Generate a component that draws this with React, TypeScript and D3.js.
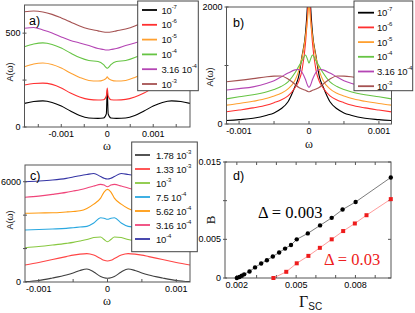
import React, { useEffect, useRef } from 'react';
import * as d3 from 'd3';

// ---------- panel a) ----------
const omegaA = [-0.0018, -0.0016, -0.0014, -0.0012, -0.001, -0.0008, -0.0006, -0.0004, -0.0002, -0.00008, -0.00002, 0, 0.00002, 0.00008, 0.0002, 0.0004, 0.0006, 0.0008, 0.001, 0.0012, 0.0014, 0.0016, 0.0018];
const a1 = [126, 136, 139, 131, 112, 85, 61, 48, 46, 48, 70, 197, 70, 48, 46, 48, 61, 85, 112, 131, 139, 136, 126];
const a2 = [224, 232, 234, 227, 208, 181, 160, 147, 144, 145, 165, 208, 165, 145, 144, 147, 160, 181, 208, 227, 234, 232, 224];
const a3 = [321, 336, 341, 333, 314, 288, 264, 248, 245, 251, 260, 267, 260, 251, 245, 248, 264, 288, 314, 333, 341, 336, 321];
const a4 = [428, 442, 448, 440, 421, 394, 370, 354, 349, 332, 316, 313, 316, 332, 349, 354, 370, 394, 421, 440, 448, 442, 428];
const a5 = [526, 530, 517, 501, 480, 461, 448, 434, 418, 413, 410, 410, 410, 413, 418, 434, 448, 461, 480, 501, 517, 530, 526];
const a6 = [614, 618, 613, 600, 581, 560, 538, 522, 512, 506, 505, 505, 505, 506, 512, 522, 538, 560, 581, 600, 613, 618, 614];

// ---------- panel b) ----------
const omegaB = [-0.00118, -0.001, -0.0008, -0.0006, -0.0005, -0.0004, -0.0003, -0.0002, -0.00015, -0.0001, -0.00005, -0.00002, 0, 0.00002, 0.00005, 0.0001, 0.00015, 0.0002, 0.0003, 0.0004, 0.0005, 0.0006, 0.0008, 0.001, 0.00118];
const b1 = [60, 75, 97, 150, 190, 260, 380, 640, 800, 1160, 1556, 2100, 2800, 2100, 1556, 1160, 800, 640, 380, 260, 190, 150, 97, 75, 60];
const b2 = [208, 238, 275, 325, 365, 410, 480, 620, 720, 920, 1380, 1900, 2400, 1900, 1380, 920, 720, 620, 480, 410, 365, 325, 275, 238, 208];
const b3 = [322, 350, 388, 439, 480, 525, 600, 747, 900, 1134, 1493, 1800, 2050, 1800, 1493, 1134, 900, 747, 600, 525, 480, 439, 388, 350, 322];
const b4 = [430, 465, 500, 552, 590, 640, 720, 875, 980, 1080, 1180, 1100, 1040, 1100, 1180, 1080, 980, 875, 720, 640, 590, 552, 500, 465, 430];
const b5 = [581, 605, 635, 696, 740, 805, 870, 925, 932, 885, 760, 660, 627, 660, 760, 885, 932, 925, 870, 805, 740, 696, 635, 605, 581];
const b6 = [722, 745, 775, 809, 818, 820, 770, 680, 627, 597, 575, 558, 552, 558, 575, 597, 627, 680, 770, 820, 818, 809, 775, 745, 722];

const abLabels = ['10^-7', '10^-6', '10^-5', '10^-4', '3.16 10^-4', '10^-3'];
const abColors = ['#000000', '#ff3030', '#ffa030', '#66c444', '#b445b4', '#a55252'];

// ---------- panel c) ----------
const omegaC = [-0.0012, -0.001, -0.0008, -0.0006, -0.0005, -0.0004, -0.0003, -0.0002, -0.0001, -0.00005, 0, 0.00005, 0.0001, 0.0002, 0.0003, 0.0004, 0.0005, 0.0006, 0.0008, 0.001, 0.0012];
const c1 = [20, 90, 240, 420, 540, 690, 780, 600, 330, 250, 220, 250, 330, 600, 780, 690, 540, 420, 240, 90, 20];
const c2 = [1020, 1170, 1350, 1520, 1610, 1670, 1700, 1610, 1400, 1300, 1260, 1300, 1400, 1610, 1700, 1670, 1610, 1520, 1350, 1170, 1020];
const c3 = [2050, 2120, 2210, 2310, 2370, 2450, 2540, 2660, 2690, 2540, 2410, 2540, 2690, 2660, 2540, 2450, 2370, 2310, 2210, 2120, 2050];
const c4 = [3110, 3140, 3170, 3210, 3250, 3290, 3330, 3530, 3840, 3810, 3750, 3810, 3840, 3530, 3330, 3290, 3250, 3210, 3170, 3140, 3110];
const c5 = [4110, 4130, 4140, 4190, 4220, 4260, 4400, 4660, 5020, 5380, 5540, 5380, 5020, 4660, 4400, 4260, 4220, 4190, 4140, 4130, 4110];
const c6 = [5070, 5140, 5240, 5360, 5440, 5520, 5620, 5740, 5840, 5800, 5700, 5800, 5840, 5740, 5620, 5520, 5440, 5360, 5240, 5140, 5070];
const c7 = [6000, 6040, 6100, 6200, 6280, 6360, 6430, 6490, 6310, 6210, 6160, 6210, 6310, 6490, 6430, 6360, 6280, 6200, 6100, 6040, 6000];

const cLabels = ['1.78 10^-3', '1.33 10^-3', '10^-3', '7.5 10^-4', '5.62 10^-4', '3.16 10^-4', '10^-4'];
const cColors = ['#404040', '#ff4545', '#88c840', '#2aa8e0', '#ff9a10', '#f0457a', '#3535a5'];

// ---------- panel d) ----------
const gammaBlack = [0.0020, 0.00213, 0.00225, 0.00237, 0.00264, 0.00292, 0.00323, 0.00352, 0.00382, 0.00414, 0.00444, 0.00474, 0.00503, 0.00559, 0.00621, 0.0068, 0.00735, 0.00801, 0.00979];
const bBlack = [0, 0.00013, 0.0003, 0.00047, 0.00085, 0.00137, 0.00188, 0.0023, 0.00278, 0.0033, 0.0038, 0.00427, 0.005, 0.00577, 0.0068, 0.00778, 0.00885, 0.00983, 0.013];
const gammaRed = [0.00385, 0.0045, 0.00503, 0.00562, 0.0062, 0.0068, 0.00738, 0.00797, 0.00856, 0.00979];
const bRed = [0, 0.0008, 0.0019, 0.00286, 0.0039, 0.005, 0.00607, 0.00705, 0.00812, 0.0102];

const sans = "'Liberation Sans', Arial, sans-serif";
const serif = "'Liberation Serif', 'Times New Roman', serif";
const frameColor = '#555';

const App = () => {
  const svgRef = useRef<SVGSVGElement>(null);

  useEffect(() => {
    document.body.style.margin = '0';
    const svg = d3.select(svgRef.current);
    svg.selectAll('*').remove();

    const axes = (x: any, y: any, xTicks: number[], xLab: number[], yTicks: number[], yLab: number[], mirror = false) => {
      const [l, r] = x.range();
      const [b, t] = y.range();
      const g = svg.append('g');
      g.append('rect').attr('x', l).attr('y', t).attr('width', r - l).attr('height', b - t)
        .attr('fill', 'none').attr('stroke', frameColor).attr('stroke-width', 1);
      xTicks.forEach(v => {
        g.append('line').attr('x1', x(v)).attr('x2', x(v)).attr('y1', b).attr('y2', b - 3).attr('stroke', frameColor);
        if (mirror) g.append('line').attr('x1', x(v)).attr('x2', x(v)).attr('y1', t).attr('y2', t + 3).attr('stroke', frameColor);
      });
      yTicks.forEach(v => {
        g.append('line').attr('x1', l - 2).attr('x2', l + 2).attr('y1', y(v)).attr('y2', y(v)).attr('stroke', frameColor);
        if (mirror) g.append('line').attr('x1', r).attr('x2', r - 3).attr('y1', y(v)).attr('y2', y(v)).attr('stroke', frameColor);
      });
      xLab.forEach(v => {
        g.append('text').attr('x', x(v)).attr('y', b + 10).attr('text-anchor', 'middle')
          .attr('font-family', sans).attr('font-size', 9).text(String(v));
      });
      yLab.forEach(v => {
        g.append('text').attr('x', l - 4).attr('y', y(v) + 3).attr('text-anchor', 'end')
          .attr('font-family', sans).attr('font-size', 9).text(String(v));
      });
    };

    const clip = (id: string, x: any, y: any) => {
      const [l, r] = x.range();
      const [b, t] = y.range();
      svg.append('clipPath').attr('id', id).append('rect')
        .attr('x', l).attr('y', t).attr('width', r - l).attr('height', b - t);
    };

    const curves = (id: string, x: any, y: any, omega: number[], series: number[][], colors: string[]) => {
      const line = d3.line<number>().x((_, i) => x(omega[i])).y(d => y(d)).curve(d3.curveMonotoneX);
      const g = svg.append('g').attr('clip-path', `url(#${id})`);
      series.forEach((s, i) => {
        g.append('path').attr('d', line(s)).attr('fill', 'none')
          .attr('stroke', colors[i]).attr('stroke-width', 1.1);
      });
    };

    const label = (g: any, x: number, y: number, txt: string) => {
      const [base, exp] = txt.split('^');
      const t = g.append('text').attr('x', x).attr('y', y + 3.5)
        .attr('font-family', sans).attr('font-size', 9.5).attr('letter-spacing', -0.2).attr('fill', '#111');
      t.append('tspan').text(base);
      if (exp) t.append('tspan').attr('dy', -5).attr('font-size', 6).text(exp);
    };

    const legend = (x0: number, y0: number, w: number, h: number, first: number, step: number, lineX: number[], textX: number, labels: string[], colors: string[]) => {
      const g = svg.append('g');
      g.append('rect').attr('x', x0).attr('y', y0).attr('width', w).attr('height', h)
        .attr('fill', '#fff').attr('stroke', '#444').attr('stroke-width', 1);
      labels.forEach((lab, i) => {
        const yy = first + i * step;
        g.append('line').attr('x1', lineX[0]).attr('x2', lineX[1]).attr('y1', yy).attr('y2', yy)
          .attr('stroke', colors[i]).attr('stroke-width', 1.8);
        label(g, textX, yy, lab);
      });
    };

    const text = (x: number, y: number, s: string, size: number, family: string, rotate = false, fill = '#111') => {
      const t = svg.append('text').attr('x', x).attr('y', y).attr('text-anchor', 'middle')
        .attr('font-family', family).attr('font-size', size).attr('fill', fill).text(s);
      if (rotate) t.attr('transform', `rotate(-90,${x},${y})`);
      return t;
    };

    // a)
    const xa = d3.scaleLinear().domain([-0.0018, 0.0018]).range([24.5, 190]);
    const ya = d3.scaleLinear().domain([0, 650]).range([127, 5]);
    clip('ca', xa, ya);
    curves('ca', xa, ya, omegaA, [a1, a2, a3, a4, a5, a6], abColors);
    axes(xa, ya, [-0.0015, -0.001, -0.0005, 0, 0.0005, 0.001, 0.0015], [-0.001, 0, 0.001], [0, 250, 500], [0, 500]);

    // b)
    const xb = d3.scaleLinear().domain([-0.00118, 0.00118]).range([226.5, 391.5]);
    const yb = d3.scaleLinear().domain([0, 2000]).range([124, 7]);
    clip('cb', xb, yb);
    curves('cb', xb, yb, omegaB, [b1, b2, b3, b4, b5, b6], abColors);
    axes(xb, yb, [-0.001, -0.0005, 0, 0.0005, 0.001], [-0.001, 0, 0.001], [0, 1000, 2000], [0, 2000]);

    // c)
    const xc = d3.scaleLinear().domain([-0.0012, 0.0012]).range([25, 190]);
    const yc = d3.scaleLinear().domain([0, 7000]).range([282, 165]);
    clip('cc', xc, yc);
    curves('cc', xc, yc, omegaC, [c1, c2, c3, c4, c5, c6, c7], cColors);
    axes(xc, yc, [-0.001, -0.0005, 0, 0.0005, 0.001], [-0.001, 0, 0.001], [0, 2000, 4000, 6000], [0, 6000]);

    // d)
    const xd = d3.scaleLinear().domain([0.0014, 0.0098]).range([225, 391]);
    const yd = d3.scaleLinear().domain([0, 0.015]).range([278, 162]);
    axes(xd, yd, d3.range(2, 10).map(v => v / 1000), [0.002, 0.005, 0.008], [0, 0.005, 0.01, 0.015], [0, 0.005, 0.015], true);
    const ld = d3.line<number>().x((_, i) => xd(gammaBlack[i])).y(d => yd(d));
    svg.append('path').attr('d', ld(bBlack)).attr('fill', 'none').attr('stroke', '#444').attr('stroke-width', 0.7);
    const lr = d3.line<number>().x((_, i) => xd(gammaRed[i])).y(d => yd(d));
    svg.append('path').attr('d', lr(bRed)).attr('fill', 'none').attr('stroke', '#ff7070').attr('stroke-width', 0.7);
    svg.append('g').selectAll('circle').data(bBlack).enter().append('circle')
      .attr('cx', (_, i) => xd(gammaBlack[i])).attr('cy', d => yd(d)).attr('r', 2.2).attr('fill', '#000');
    svg.append('g').selectAll('rect').data(bRed).enter().append('rect')
      .attr('x', (_, i) => xd(gammaRed[i]) - 2).attr('y', d => yd(d) - 2)
      .attr('width', 4).attr('height', 4).attr('fill', '#ee1c1c');

    // legends
    legend(137.7, 1, 60.6, 89.7, 10, 14.8, [142, 157], 161.5, abLabels, abColors);
    legend(354, 1, 58.7, 89.7, 12.7, 14.7, [358, 374], 377, abLabels, abColors);
    legend(131.7, 142, 65.6, 109.7, 155, 14, [135, 150], 156, cLabels, cColors);

    // panel tags
    svg.append('text').attr('x', 29).attr('y', 25).attr('font-family', sans).attr('font-size', 12.5).text('a)');
    svg.append('text').attr('x', 233).attr('y', 27).attr('font-family', sans).attr('font-size', 12.5).text('b)');
    svg.append('text').attr('x', 30).attr('y', 180).attr('font-family', sans).attr('font-size', 12.5).text('c)');
    svg.append('text').attr('x', 233).attr('y', 180).attr('font-family', sans).attr('font-size', 12.5).text('d)');

    // axis titles
    text(107, 150, 'ω', 12, serif);
    text(309, 148, 'ω', 12, serif);
    text(107, 305, 'ω', 12, serif);
    text(13, 72, 'A(ω)', 9, sans, true);
    text(213, 77, 'A(ω)', 9, sans, true);
    text(13, 220, 'A(ω)', 9, sans, true);
    text(215, 220, 'B', 13, serif, true);
    const gl = svg.append('text').attr('x', 299).attr('y', 307).attr('font-family', serif).attr('font-size', 16).attr('fill', '#111');
    gl.append('tspan').text('Γ');
    gl.append('tspan').attr('font-family', sans).attr('font-size', 10).attr('dy', 3).text('SC');

    // Δ annotations
    svg.append('text').attr('x', 258).attr('y', 218).attr('font-family', serif).attr('font-size', 16.5).attr('fill', '#000').text('Δ = 0.003');
    svg.append('text').attr('x', 324).attr('y', 265).attr('font-family', serif).attr('font-size', 16.5).attr('fill', '#ee2020').text('Δ = 0.03');
  }, []);

  return (
    <svg ref={svgRef} width={415} height={313} style={{ position: 'absolute', left: 0, top: 0, background: '#fff' }} />
  );
};

export default App;
